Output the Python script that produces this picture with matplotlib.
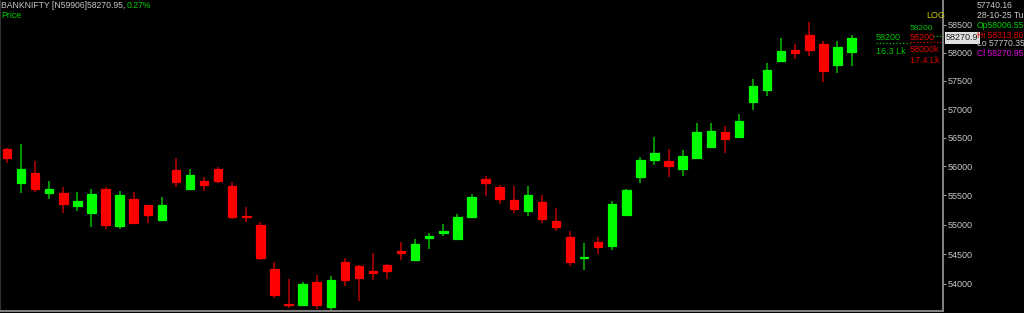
import numpy as np
import matplotlib
matplotlib.use('Agg')
import matplotlib.pyplot as plt

plt.rcParams['font.family'] = ['Liberation Sans', 'DejaVu Sans']

# daily BANKNIFTY candles, oldest first
opens = [56300, 55720, 55890, 55545, 55540, 55320, 55200, 55600, 54980, 55430,
         55330, 55085, 55935, 55605, 55745, 55960, 55660, 55145, 54990, 54250,
         53660, 53645, 54035, 53625, 54370, 54300, 54210, 54325, 54555, 54400,
         54770, 54865, 54760, 55135, 55780, 55645, 55420, 55235, 55380, 55055,
         54795, 54440, 54705, 54635, 55165, 55820, 56115, 56085, 55960, 56150,
         56330, 56590, 56515, 57120, 57340, 57860, 58050, 58310, 58165, 57775,
         58006.55]
highs = [56310, 56390, 56090, 55750, 55650, 55550, 55605, 55640, 55580, 55560,
         55340, 55465, 56150, 55960, 55810, 55985, 55735, 55295, 55050, 54365,
         54080, 54030, 54155, 54135, 54435, 54310, 54515, 54335, 54710, 54750,
         54855, 55010, 55180, 55525, 55835, 55670, 55660, 55660, 55505, 55280,
         54890, 54685, 54790, 55405, 55605, 56155, 56505, 56300, 56280, 56750,
         56760, 56705, 56915, 57525, 57820, 58260, 58150, 58560, 58215, 58215,
         58313.80]
lows = [56050, 55545, 55560, 55430, 55205, 55230, 54965, 54920, 54925, 55010,
        55035, 55075, 55650, 55595, 55580, 55705, 55090, 55050, 54400, 53770,
        53595, 53635, 53580, 53565, 53970, 53720, 54065, 54090, 54400, 54385,
        54585, 54805, 54750, 55125, 55490, 55345, 55205, 55150, 55035, 54895,
        54300, 54235, 54500, 54570, 55150, 55705, 56015, 55820, 55835, 56140,
        56320, 56235, 56485, 56985, 57235, 57850, 57885, 57940, 57480, 57645,
        57770.35]
closes = [56140, 55955, 55600, 55610, 55350, 55400, 55520, 54995, 55505, 55035,
          55170, 55330, 55725, 55855, 55685, 55745, 55135, 55125, 54430, 53810,
          53645, 54000, 53645, 54065, 54060, 54105, 54180, 54210, 54525, 54665,
          54800, 54890, 55135, 55475, 55705, 55440, 55270, 55505, 55100, 54960,
          54375, 54455, 54625, 55345, 55585, 56105, 56230, 56000, 56185, 56600,
          56620, 56480, 56795, 57405, 57695, 58025, 57995, 58055, 57680, 58100,
          58270.95]

yTicks = [54000, 54500, 55000, 55500, 56000, 56500, 57000, 57500, 58000, 58500]

upColor = '#00ff00'
downColor = '#ff0000'
upWick = '#00a000'
downWick = '#a00000'
axisGray = '#9a9a9a'
textGray = '#c8c8c8'

W, H = 1024, 313
fig = plt.figure(figsize=(W/100, H/100), dpi=100, facecolor='black')
ax = fig.add_axes([0, 2/H, 943/W, 311/H], facecolor='black')

o = np.array(opens); h = np.array(highs); l = np.array(lows); c = np.array(closes)
x = np.arange(len(o))
up = c >= o
cols = np.where(up, upColor, downColor)
wcols = np.where(up, upWick, downWick)

ax.vlines(x, l, h, colors=wcols, linewidth=1.3, zorder=2)
ax.bar(x, np.abs(c - o), bottom=np.minimum(o, c), width=0.6,
       color=cols, edgecolor=cols, linewidth=0.9, zorder=3)

ax.set_yscale('log')
ax.set_ylim(53551, 58953)
ax.set_xlim(-0.5, 66.5)

ax.yaxis.tick_right()
ax.set_yticks(yTicks)
ax.set_yticklabels([str(v) for v in yTicks])
ax.yaxis.set_minor_locator(matplotlib.ticker.NullLocator())
ax.tick_params(axis='y', colors=axisGray, labelcolor=textGray, labelsize=6.5,
               length=2, width=0.8, pad=1)
ax.set_xticks([])
ax.spines['top'].set_visible(False)
ax.spines['right'].set_color(axisGray)
ax.spines['right'].set_linewidth(1.2)
ax.spines['bottom'].set_color('#808080')
ax.spines['bottom'].set_linewidth(1.5)
ax.spines['left'].set_color('#303030')

def ftext(px, py, s, color, size=6.5, **kw):
    fig.text(px/W, 1 - py/H, s, color=color, fontsize=size, va='center', **kw)

# header
ftext(1, 5, 'BANKNIFTY [N59906]58270.95,', textGray, size=6.2)
ftext(127, 5, '0.27%', '#00d000', size=6.2)
ftext(1, 15, 'Price', '#00d000', size=6.2)

# scale marker and volume labels
ftext(926, 16, 'LOG', '#c8c800')
ftext(910, 29, '58200', '#00c000', size=6)
ftext(876, 37, '58200', '#00c000')
ftext(876, 51, '16.3 Lk', '#00c000')
ftext(910, 37, '58200', '#e00000')
ftext(910, 49, '58000k', '#e00000')
ftext(910, 60, '17.4 Lk', '#e00000')
fig.add_artist(plt.Line2D([876/W, 910/W], [1 - 42.5/H]*2, color='#00c000', linestyle=':', linewidth=0.9))
fig.add_artist(plt.Line2D([910/W, 943/W], [1 - 42/H]*2, color='#e00000', linestyle=':', linewidth=0.9))
fig.add_artist(plt.Line2D([933/W, 943/W], [1 - 36/H]*2, color='#00c000', linestyle=':', linewidth=0.9))

# last price box
ftext(946, 38, '58270.9', '#202020',
      bbox=dict(boxstyle='square,pad=0.15', facecolor='#e0e0e0', edgecolor='none'))

# info panel
ftext(977, 6, '57740.16', textGray, size=6.2)
ftext(977, 16, '28-10-25 Tu', textGray, size=6.2)
ftext(977, 26, 'Op58006.55', '#00d000', size=6.2)
ftext(977, 35, 'Hi 58313.80', '#e00000', size=6.2)
ftext(977, 44, 'Lo 57770.35', textGray, size=6.2)
ftext(977, 53, 'Cl 58270.95', '#e000e0', size=6.2)

fig.savefig('out.png', dpi=100, facecolor='black')
